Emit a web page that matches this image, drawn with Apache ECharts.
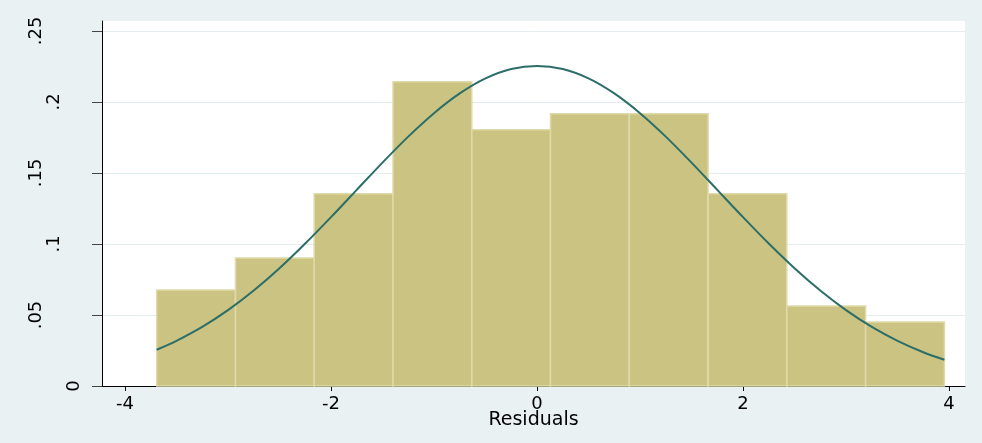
<!DOCTYPE html>
<html>
<head>
<meta charset="utf-8">
<script src="https://cdn.jsdelivr.net/npm/echarts@6/dist/echarts.min.js"></script>
<style>
  html, body { margin: 0; padding: 0; background: #eaf1f3; }
  #chart { width: 982px; height: 443px; }
</style>
</head>
<body>
<div id="chart"></div>
<script>
// Histogram of residuals (density scale) with a normal density overlay
const binEdges = [-3.692, -2.927, -2.163, -1.398, -0.633, 0.131, 0.896, 1.661, 2.425, 3.190, 3.955];
const binDensity = [0.0676, 0.0902, 0.1353, 0.2142, 0.1804, 0.1917, 0.1917, 0.1353, 0.0564, 0.0451];

const curveX = [-3.692, -3.5, -3.25, -3, -2.75, -2.5, -2.25, -2, -1.75, -1.5, -1.25, -1, -0.75, -0.5, -0.25,
                0, 0.25, 0.5, 0.75, 1, 1.25, 1.5, 1.75, 2, 2.25, 2.5, 2.75, 3, 3.25, 3.5, 3.75, 3.955];
const curveY = [0.0255, 0.0318, 0.0416, 0.0534, 0.0672, 0.0829, 0.1003, 0.1189, 0.1381, 0.1573, 0.1756, 0.1921, 0.2060, 0.2166, 0.2232,
                0.2254, 0.2232, 0.2166, 0.2060, 0.1921, 0.1756, 0.1573, 0.1381, 0.1189, 0.1003, 0.0829, 0.0672, 0.0534, 0.0416, 0.0318, 0.0238, 0.0185];

const xTicks = [-4, -2, 0, 2, 4];
const yTicks = [0, 0.05, 0.1, 0.15, 0.2, 0.25];
const yTickLabels = ['0', '.05', '.1', '.15', '.2', '.25'];

const bars = binDensity.map((d, i) => [binEdges[i], binEdges[i + 1], d]);
const curve = curveX.map((x, i) => [x, curveY[i]]);

const chart = echarts.init(document.getElementById('chart'), null, { renderer: 'canvas' });

const font = 'DejaVu Sans, Liberation Sans, sans-serif';

chart.setOption({
  backgroundColor: '#eaf1f3',
  animation: false,
  grid: {
    left: 102, right: 17, top: 21, bottom: 57,
    show: true, backgroundColor: '#ffffff', borderWidth: 0
  },
  xAxis: {
    type: 'value',
    min: -4.223, max: 4.155,
    name: 'Residuals',
    nameLocation: 'middle',
    nameGap: 25,
    nameMoveOverlap: false,
    nameTextStyle: { color: '#000', fontSize: 19, fontFamily: font },
    axisLine: { show: true, onZero: false, lineStyle: { color: '#000', width: 1 } },
    axisTick: { show: true, length: 5, customValues: xTicks, lineStyle: { color: '#000' } },
    axisLabel: { customValues: xTicks, margin: 9, color: '#000', fontSize: 18, fontFamily: font,
      formatter: v => String(v) },
    splitLine: { show: false }
  },
  yAxis: {
    type: 'value',
    min: 0, max: 0.257,
    axisLine: { show: true, onZero: false, lineStyle: { color: '#000', width: 1 } },
    axisTick: { show: true, length: 10, customValues: yTicks, lineStyle: { color: '#444' } },
    axisLabel: {
      customValues: yTicks, rotate: 90, margin: 19, color: '#000', fontSize: 18, fontFamily: font,
      formatter: v => {
        const s = yTickLabels[yTicks.findIndex(t => Math.abs(t - v) < 1e-9)];
        const cls = s.length === 3 ? 'l3' : (s.length === 2 ? 'l2' : 'l1');
        return '{' + cls + '|' + s + '}';
      },
      rich: {
        l1: { fontSize: 18, fontFamily: font, color: '#000' },
        l2: { fontSize: 18, fontFamily: font, color: '#000', padding: [0, 0, 20, 0] },
        l3: { fontSize: 18, fontFamily: font, color: '#000', padding: [0, 0, 38, 0] }
      }
    },
    splitLine: { show: true, lineStyle: { color: '#e2edef', width: 1 } }
  },
  series: [
    {
      type: 'custom',
      data: bars,
      renderItem: (params, api) => {
        const p0 = api.coord([api.value(0), api.value(2)]);
        const p1 = api.coord([api.value(1), 0]);
        return {
          type: 'rect',
          shape: { x: p0[0], y: p0[1], width: p1[0] - p0[0], height: p1[1] - p0[1] },
          style: { fill: '#cbc381', stroke: '#e0daa8', lineWidth: 1.5 }
        };
      },
      encode: { x: [0, 1], y: 2 },
      z: 2
    },
    {
      type: 'line',
      data: curve,
      smooth: 0.3,
      showSymbol: false,
      lineStyle: { color: '#2c6e68', width: 2 },
      z: 3
    }
  ]
});
</script>
</body>
</html>
